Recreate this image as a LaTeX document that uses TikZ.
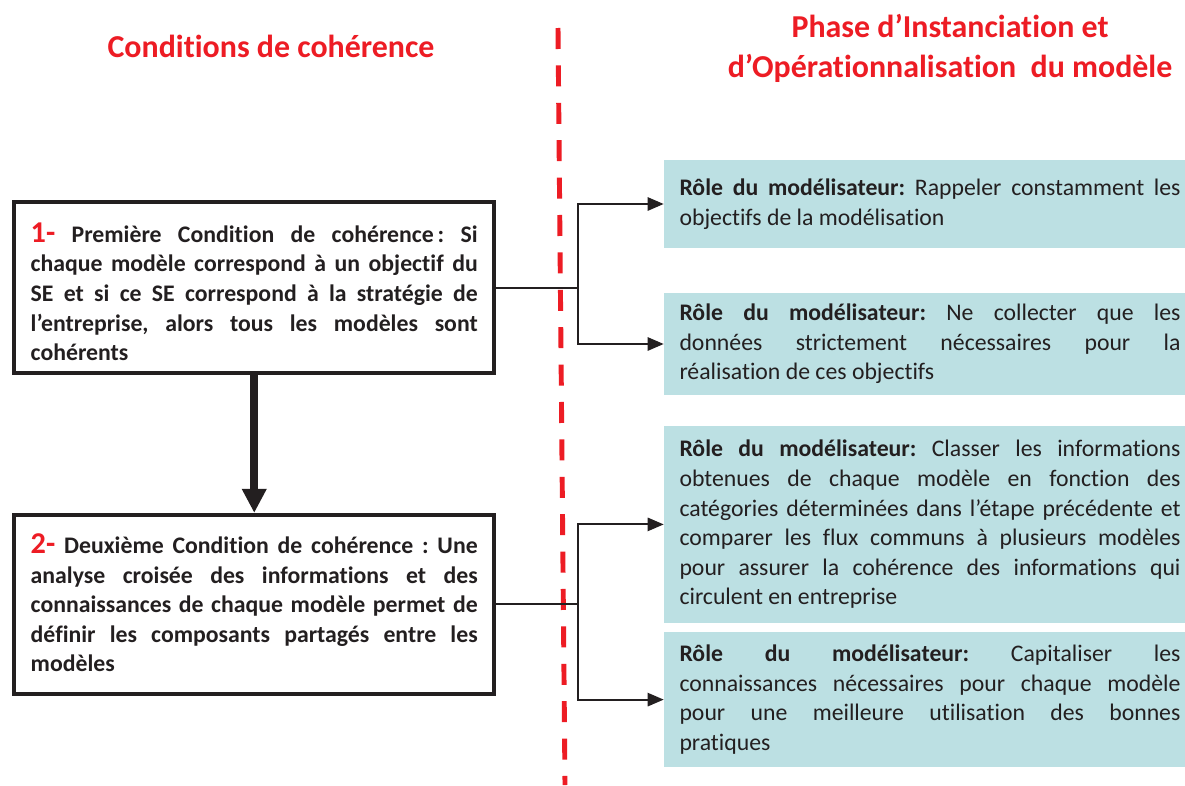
\documentclass[tikz,border=0pt]{standalone}
\usepackage{fontspec}
\setmainfont{Carlito}[Ligatures={TeX,NoCommon}]
\usepackage{tikz}
\usetikzlibrary{arrows.meta,positioning,calc}
\definecolor{cohred}{RGB}{237,28,36}
\definecolor{cohink}{RGB}{35,31,32}
\definecolor{rolefill}{RGB}{188,224,227}
\hyphenpenalty=10000
\exhyphenpenalty=10000
\tolerance=9999
\frenchspacing

\begin{document}
\begin{tikzpicture}[
  every node/.style={font=\fontsize{16.9}{21.05}\selectfont, text=cohink},
  condbox/.style={draw=cohink, line width=2.85pt, fill=white, inner sep=0pt,
                  minimum width=12cm, text width=11.175cm, align=justify,
                  font=\fontsize{16.9}{21.05}\selectfont\bfseries},
  rolebox/.style={fill=rolefill, inner sep=0pt, minimum width=13.3cm,
                  text width=12.525cm, align=justify,
                  font=\fontsize{16.9}{21.05}\selectfont},
  title/.style={font=\fontsize{22.7}{28.4}\selectfont\bfseries,
                text=cohred, align=center},
  bigarrow/.style={-{Triangle[length=0.6cm, width=0.58cm]}, line width=5.7pt,
                   draw=cohink},
  link/.style={line width=1.4pt, draw=cohink},
  arrow/.style={-{Triangle[length=0.4cm, width=0.33cm]}, line width=1.4pt,
                draw=cohink},
  divider/.style={draw=cohred, line width=3.5pt,
                  dash pattern=on 0.525cm off 0.41cm},
]

\fill[white] (0,0) rectangle (29.625,-19.625);
\useasboundingbox (0,0) rectangle (29.625,-19.625);

%% Titles
\node[title] (ttlcond)  at (6.775,-1.15) {Conditions de cohérence};
\node[title] (ttlphase) at (23.75,-1.2)
  {Phase d’Instanciation et\\d’Opérationnalisation~ du modèle};

%% Separation line
\coordinate (divtop) at (13.95,-0.7);
\coordinate (divbot) at (14.125,-19.625);
\draw[divider] (divtop) -- (divbot);

%% Coherence conditions
\node[condbox, minimum height=4.275cm] (cond1) at (6.356,-7.19)
  {\rule{0pt}{0.7cm}\smash{\color{cohred}\fontsize{21.5}{21}\selectfont 1-}\
   Première Condition de cohérence\,: Si\linebreak chaque modèle correspond
   à un objectif du\linebreak SE et si ce SE correspond à la stratégie
   de\linebreak l’entreprise, alors tous les modèles sont\linebreak
   cohérents};
\node[condbox, minimum height=4.475cm] (cond2) at (6.356,-15.11)
  {\smash{\color{cohred}\fontsize{21.5}{21}\selectfont 2-} Deuxième
   Condition de cohérence : Une\linebreak analyse croisée des informations
   et des\linebreak connaissances de chaque modèle permet de\linebreak
   définir les composants partagés entre les\linebreak modèles};

%% Roles of the modeller
\node[rolebox, minimum height=2.2cm] (roleA) at (23.25,-5.1)
  {\textbf{Rôle du modélisateur:} Rappeler constamment les\linebreak
   objectifs de la modélisation};
\node[rolebox, minimum height=2.55cm] (roleB) at (23.25,-8.6)
  {\textbf{Rôle du modélisateur:} Ne collecter que les\linebreak données
   strictement nécessaires pour la\linebreak réalisation de ces objectifs};
\node[rolebox, minimum height=4.925cm] (roleC) at (23.25,-13.11)
  {\textbf{Rôle du modélisateur:} Classer les informations\linebreak
   obtenues de chaque modèle en fonction des\linebreak catégories
   déterminées dans l’étape précédente et\linebreak comparer les flux
   communs à plusieurs modèles\linebreak pour assurer la cohérence des
   informations qui\linebreak circulent en entreprise};
\node[rolebox, minimum height=3.375cm] (roleD) at (23.25,-17.49)
  {\textbf{Rôle du modélisateur:} Capitaliser les\linebreak connaissances
   nécessaires pour chaque modèle\linebreak pour une meilleure utilisation
   des bonnes\linebreak pratiques};

%% Arrows
\draw[bigarrow] (cond1.south) -- (cond2.north);

\draw[link] (cond1.east) -- ++(2.05,0) coordinate (fork1);
\draw[arrow] (fork1) |- (roleA.west);
\draw[arrow] (fork1) |- (roleB.west);

\draw[link] (cond2.east) -- ++(2.05,0) coordinate (fork2);
\draw[arrow] (fork2) |- (roleC.west);
\draw[arrow] (fork2) |- (roleD.west);

\end{tikzpicture}
\end{document}
